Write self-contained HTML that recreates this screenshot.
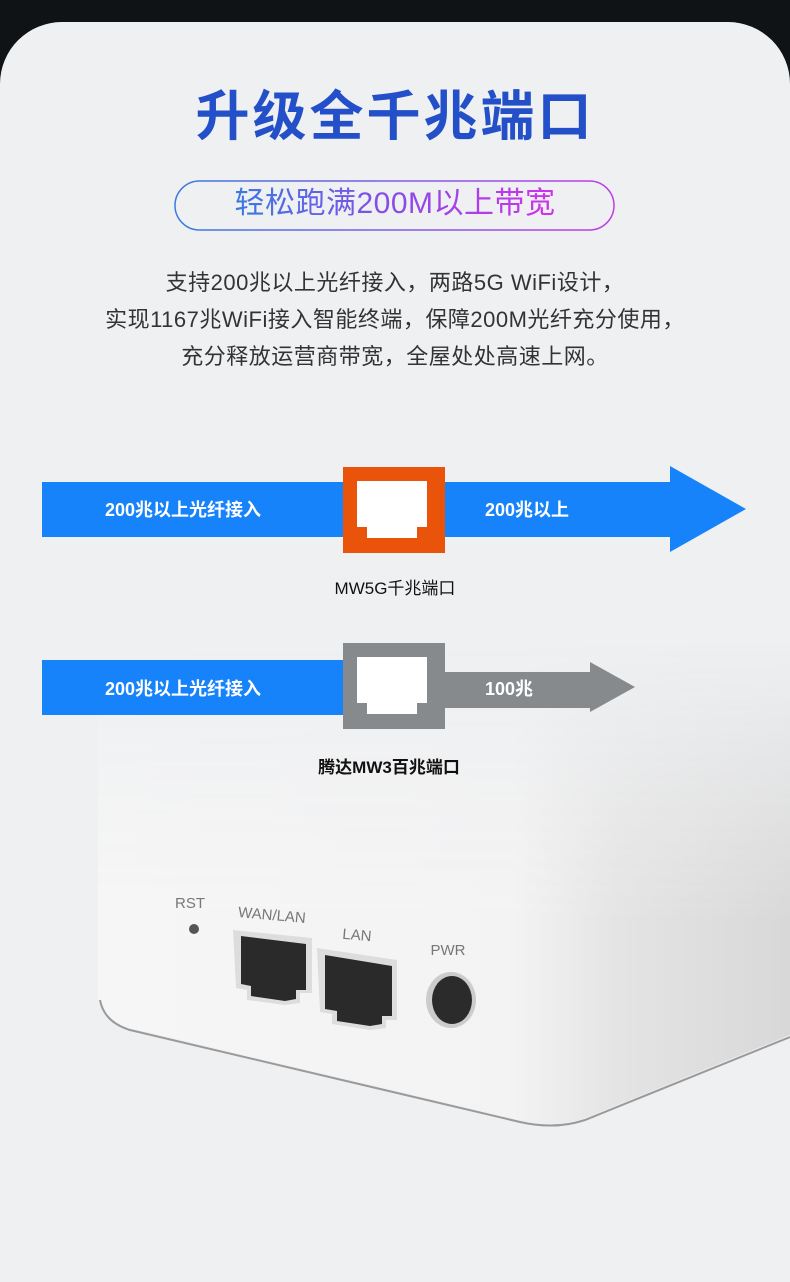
<!DOCTYPE html>
<html><head><meta charset="utf-8"><style>
*{margin:0;padding:0;box-sizing:border-box}
body{width:790px;height:1249px;background:#0f1316;position:relative;overflow:hidden;font-family:"Liberation Sans","Noto Sans CJK SC",sans-serif}
.card{position:absolute;left:0;top:22px;width:790px;height:1260px;background:#eff0f2;border-radius:62px 62px 0 0;overflow:hidden}
.abs{position:absolute}
.t{position:absolute;white-space:nowrap}
</style></head><body>
<div class="card">
<svg class="abs" style="left:0;top:0" width="790" height="1240" viewBox="0 22 790 1240">
<defs>
<linearGradient id="pg" x1="0" x2="1"><stop offset="0" stop-color="#3a7be0"/><stop offset="1" stop-color="#c23be8"/></linearGradient>
<linearGradient id="rg" x1="0" x2="1"><stop offset="0" stop-color="#f6f6f6"/><stop offset="0.6" stop-color="#f3f3f3"/><stop offset="0.75" stop-color="#e4e4e4"/><stop offset="1" stop-color="#d8d8d8"/></linearGradient>
<linearGradient id="mg" gradientUnits="userSpaceOnUse" x1="0" y1="640" x2="0" y2="920"><stop offset="0" stop-color="#000"/><stop offset="1" stop-color="#fff"/></linearGradient>
<mask id="m" maskUnits="userSpaceOnUse" x="0" y="500" width="790" height="800"><rect x="0" y="500" width="790" height="800" fill="url(#mg)"/></mask>
</defs>
<!-- router -->
<g mask="url(#m)">
<path d="M98 600 L790 600 L790 1035 L585 1118 Q555 1128 520 1120 L130 1028 Q100 1020 98 995 Z" fill="url(#rg)"/>
</g>
<path d="M100 1000 Q104 1022 130 1030 L520 1122 Q555 1130 585 1120 L790 1037" fill="none" stroke="#9a9a9a" stroke-width="2"/>
<!-- ports -->
<text x="190" y="908" font-size="15" fill="#777" text-anchor="middle" font-family="Liberation Sans">RST</text>
<circle cx="194" cy="929" r="5" fill="#555"/>
<text x="272" y="920" font-size="15" fill="#777" text-anchor="middle" font-family="Liberation Sans" transform="rotate(5 272 915)">WAN/LAN</text>
<text x="357" y="940" font-size="15" fill="#777" text-anchor="middle" font-family="Liberation Sans" transform="rotate(5 357 935)">LAN</text>
<text x="448" y="955" font-size="15" fill="#777" text-anchor="middle" font-family="Liberation Sans">PWR</text>
<path d="M233 930 L312 938 L312 993 L300 993 L300 1003 L285 1005 L247 1000 L247 990 L236 988 Z" fill="#ddd"/>
<path d="M241 936 L306 944 L306 990 L296 990 L296 999 L285 1001 L251 996 L251 986 L241 984 Z" fill="#2a2a2a"/>
<path d="M317 948 L397 960 L397 1020 L386 1020 L386 1028 L370 1030 L332 1024 L332 1014 L320 1012 Z" fill="#ddd"/>
<path d="M325 955 L392 966 L392 1016 L382 1016 L382 1024 L370 1026 L337 1021 L337 1011 L325 1009 Z" fill="#2a2a2a"/>
<ellipse cx="451" cy="1000" rx="25" ry="28" fill="#ccc"/>
<ellipse cx="452" cy="1000" rx="20" ry="24" fill="#2b2b2b"/>
<!-- arrow 1 -->
<rect x="42" y="482" width="630" height="55" fill="#1783fb"/>
<path d="M670 466 L746 509 L670 552 Z" fill="#1783fb"/>
<rect x="343" y="467" width="102" height="86" fill="#e9530a"/>
<path d="M357 481 H427 V527 H417 V538 H367 V527 H357 Z" fill="#fff"/>
<!-- arrow 2 -->
<rect x="42" y="660" width="303" height="55" fill="#1783fb"/>
<rect x="440" y="672" width="152" height="36" fill="#868a8d"/>
<path d="M590 662 L635 687 L590 712 Z" fill="#868a8d"/>
<rect x="343" y="643" width="102" height="86" fill="#868a8d"/>
<path d="M357 657 H427 V703 H417 V714 H367 V703 H357 Z" fill="#fff"/>
<!-- pill -->
<rect x="175" y="181" width="439" height="49" rx="24.5" fill="none" stroke="url(#pg)" stroke-width="1.5"/>
</svg>
</div>
<div class="t" style="left:0;width:790px;text-align:center;top:82px;font-size:54px;line-height:70px;font-weight:bold;color:#2350c8;letter-spacing:3px">升级全千兆端口</div>
<div class="t" style="left:0;width:790px;text-align:center;top:186px;font-size:30px;line-height:36px;letter-spacing:0.5px"><span style="background:linear-gradient(90deg,#3a7be0,#8a4be8,#d132ea);-webkit-background-clip:text;background-clip:text;color:transparent">轻松跑满200M以上带宽</span></div>
<div class="t" style="left:0;width:790px;text-align:center;top:264px;font-size:22px;line-height:37px;color:#333;letter-spacing:0.5px">支持200兆以上光纤接入，两路5G WiFi设计，<br>实现1167兆WiFi接入智能终端，保障200M光纤充分使用，<br>充分释放运营商带宽，全屋处处高速上网。</div>
<div class="t" style="left:105px;top:496px;font-size:18px;color:#fff;font-weight:bold">200兆以上光纤接入</div>
<div class="t" style="left:485px;top:496px;font-size:18px;color:#fff;font-weight:bold">200兆以上</div>
<div class="t" style="left:0;width:790px;text-align:center;top:574px;font-size:17px;color:#111">MW5G千兆端口</div>
<div class="t" style="left:105px;top:675px;font-size:18px;color:#fff;font-weight:bold">200兆以上光纤接入</div>
<div class="t" style="left:485px;top:675px;font-size:18px;color:#fff;font-weight:bold">100兆</div>
<div class="t" style="left:0;width:778px;text-align:center;top:753px;font-size:17px;color:#111;font-weight:bold">腾达MW3百兆端口</div>
</body></html>
